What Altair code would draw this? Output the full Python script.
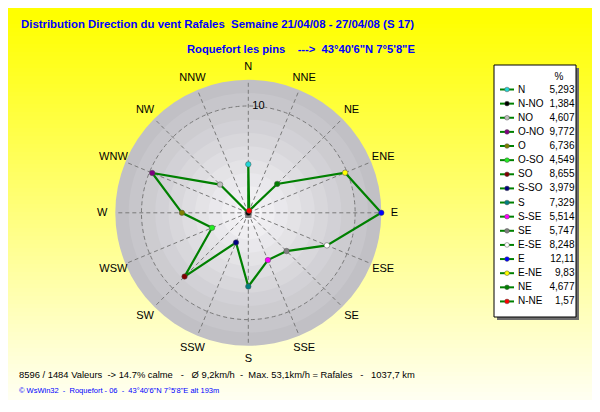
import altair as alt
import pandas as pd

# ---------------- data ----------------
compass = ["N", "NNE", "NE", "ENE", "E", "ESE", "SE", "SSE",
           "S", "SSW", "SW", "WSW", "W", "WNW", "NW", "NNW"]
legend_labels = ["N", "N-NO", "NO", "O-NO", "O", "O-SO", "SO", "S-SO",
                 "S", "S-SE", "SE", "E-SE", "E", "E-NE", "NE", "N-NE"]
legend_values = [5.293, 1.384, 4.607, 9.772, 6.736, 4.549, 8.655, 3.979,
                 7.329, 5.514, 5.747, 8.248, 12.11, 9.83, 4.677, 1.57]
legend_colors = ["#22d6d6", "#000000", "#bdbdbd", "#800080", "#808000", "#22ee22",
                 "#800000", "#000080", "#008080", "#ff00ff", "#808080", "#ffffff",
                 "#0000ff", "#ffff00", "#008000", "#ff0000"]
ring_values = [10]

title1 = "Distribution Direction du vent Rafales  Semaine 21/04/08 - 27/04/08 (S 17)"
title2 = "Roquefort les pins    --->  43°40'6\"N 7°5'8\"E"
footer1 = "8596 / 1484 Valeurs  -> 14.7% calme   -   Ø 9,2km/h  -  Max. 53,1km/h = Rafales   -   1037,7 km"
footer2 = "© WsWin32  -  Roquefort - 06  -  43°40'6\"N 7°5'8\"E alt 193m"

# ---------------- layout constants (reference pixel coords) ----------------
OFF = 8
W, H = 584, 392
CX, CY, R = 248.3, 212.8, 133.0
LABEL_R = 146.0
VMIN, VMAX = min(legend_values), max(legend_values)

XS = alt.Scale(domain=[OFF, OFF + W], nice=False, zero=False)
YS = alt.Scale(domain=[OFF, OFF + H], nice=False, zero=False, reverse=True)


def X(f):
    return alt.X(f, type="quantitative", scale=XS, axis=None)


def Y(f):
    return alt.Y(f, type="quantitative", scale=YS, axis=None)


def px(v):
    return alt.value(v - OFF)


def nb(s):
    return s.replace(" ", "\u00a0")


def hexcol(c):
    return "#%02x%02x%02x" % tuple(int(round(v)) for v in c)


one = pd.DataFrame({"a": [0]})

pts = pd.DataFrame({
    "label": legend_labels,
    "value": legend_values,
    "color": legend_colors,
    "k": list(range(len(legend_labels))),
})
pts["ang"] = (360 - 22.5 * pts["k"]) % 360
pts["ord"] = pts["ang"] / 22.5
pts["vtxt"] = [str(v).replace(".", ",") for v in legend_values]
poly = pts.sort_values("ord")
poly = pd.concat([poly, poly.iloc[[0]].assign(ord=16)], ignore_index=True)

dirs = pd.DataFrame({"dir": compass, "i": list(range(len(compass)))})
rings = pd.DataFrame({"value": ring_values})

RADIUS_EXPR = f"(datum.value - {VMIN}) / ({VMAX} - {VMIN}) * {R}"


def polar(ch):
    return ch.transform_calculate(r=RADIUS_EXPR).transform_calculate(
        px=f"{CX} + datum.r * sin(datum.ang * PI / 180)",
        py=f"{CY} - datum.r * cos(datum.ang * PI / 180)",
    )


# ---------------- background (vertical yellow -> white fade, banded) ----------------
bg_rows = []
nbg = 98
for b in range(nbg):
    y0 = OFF + H * b / nbg
    y1 = OFF + H * (b + 1) / nbg + 0.5
    t = (y0 + 2) / 412.0
    t = max(0.0, (t - 0.04) / 0.96)
    bg_rows.append({"x0": OFF, "x1": OFF + W, "y0": y0, "y1": y1,
                    "c": hexcol((255, 255, 250 * t))})
bgdf = pd.DataFrame(bg_rows)
bg = alt.Chart(bgdf).mark_rect(strokeWidth=0).encode(
    x=X("x0"), x2=alt.X2("x1"), y=Y("y0"), y2=alt.Y2("y1"),
    fill=alt.Fill("c:N", scale=None))

# banded shading of the disc (concentric filled circles)
n_b = 10
c_in = (0xf5, 0xf4, 0xf7)
c_out = (0xc1, 0xc0, 0xc5)
band_rows = []
for b in range(n_b):
    t = 1 - b / (n_b - 1)
    col = hexcol(tuple(c_in[j] + (c_out[j] - c_in[j]) * t for j in range(3)))
    rr = R * (n_b - b) / n_b
    band_rows.append({"s": (2 * rr) ** 2, "c": col, "o": b, "cx": CX, "cy": CY})
bands = pd.DataFrame(band_rows)
disc = alt.Chart(bands).mark_point(shape="circle", filled=True, opacity=1).encode(
    x=X("cx"), y=Y("cy"),
    size=alt.Size("s:Q", scale=None), fill=alt.Fill("c:N", scale=None),
    order=alt.Order("o:Q"))

spokes = alt.Chart(dirs).transform_calculate(
    ang="datum.i * 22.5",
    x0=f"{CX}", y0=f"{CY}",
    x1=f"{CX} + {R} * sin(datum.ang * PI / 180)",
    y1=f"{CY} - {R} * cos(datum.ang * PI / 180)",
).mark_rule(color="#7a7a7a", strokeDash=[4, 3], strokeWidth=1).encode(
    x=X("x0"), y=Y("y0"), x2=alt.X2("x1"), y2=alt.Y2("y1"))

ring = alt.Chart(rings).transform_calculate(
    r=RADIUS_EXPR, s="pow(2 * datum.r, 2)", cx=f"{CX}", cy=f"{CY}",
).mark_point(shape="circle", filled=False, color="#7a7a7a", strokeDash=[4, 3],
             strokeWidth=1, opacity=1).encode(
    x=X("cx"), y=Y("cy"), size=alt.Size("s:Q", scale=None))

ring_lbl = alt.Chart(rings).transform_calculate(
    r=RADIUS_EXPR, tx=f"{CX} + 4", ty=f"{CY} - datum.r",
).mark_text(align="left", baseline="middle", font="Liberation Sans", fontSize=11,
            color="#000000").encode(x=X("tx"), y=Y("ty"), text="value:Q")

line = polar(alt.Chart(poly)).mark_line(color="#008000", strokeWidth=2.2).encode(
    x=X("px"), y=Y("py"), order=alt.Order("ord:Q"))

center = alt.Chart(one).mark_point(shape="square", filled=True, size=40,
                                   color="#808080", opacity=1).encode(
    x=px(CX), y=px(CY + 2))

points = polar(alt.Chart(pts)).mark_point(shape="circle", filled=True, size=30, opacity=1,
                                          stroke="#505050", strokeWidth=0.5).encode(
    x=X("px"), y=Y("py"), fill=alt.Fill("color:N", scale=None))

dir_lbl = alt.Chart(dirs).transform_calculate(
    ang="datum.i * 22.5",
    tx=f"{CX} + {LABEL_R} * sin(datum.ang * PI / 180)",
    ty=f"{CY} - {LABEL_R} * cos(datum.ang * PI / 180)",
).mark_text(align="center", baseline="middle", font="Liberation Sans", fontSize=11,
            color="#000000").encode(x=X("tx"), y=Y("ty"), text="dir:N")

# ---------------- titles / footers ----------------
tfont = "Liberation Sans"
t1 = alt.Chart(one).mark_text(text=nb(title1), align="left", baseline="middle",
                              font=tfont, fontSize=11.4, fontWeight="bold",
                              color="#0000ff").encode(x=px(21), y=px(25))
t2 = alt.Chart(one).mark_text(text=nb(title2), align="left", baseline="middle",
                              font=tfont, fontSize=11.2, fontWeight="bold",
                              color="#0000ff").encode(x=px(187), y=px(50))
f1 = alt.Chart(one).mark_text(text=nb(footer1), align="left", baseline="middle",
                              font="Liberation Sans", fontSize=9.4,
                              color="#000000").encode(x=px(19), y=px(375))
f2 = alt.Chart(one).mark_text(text=nb(footer2), align="left", baseline="middle",
                              font="Liberation Sans", fontSize=7.5,
                              color="#0000ff").encode(x=px(19), y=px(391))

# ---------------- legend ----------------
LX0, LX1, LY0, LY1 = 494, 576, 65, 317
ROW0, ROWH = 89.5, 14.13

shadow = alt.Chart(one).mark_rect(fill="#6e6e6e").encode(
    x=px(LX0 + 3), x2=px(LX1 + 3), y=px(LY0 + 3), y2=px(LY1 + 3))
box = alt.Chart(one).mark_rect(fill="#ffffff", stroke="#000000", strokeWidth=1).encode(
    x=px(LX0), x2=px(LX1), y=px(LY0), y2=px(LY1))
pct = alt.Chart(one).mark_text(text="%", align="center", baseline="middle",
                               font="Liberation Sans", fontSize=10).encode(
    x=px(559), y=px(76.5))

leg = alt.Chart(pts).transform_calculate(
    ly=f"{ROW0} + datum.k * {ROWH}",
    sx0="500", sx1="514", sxm="507", tx="518", vx="574.5",
)
leg_line = leg.mark_rule(color="#008000", strokeWidth=2).encode(
    x=X("sx0"), x2=alt.X2("sx1"), y=Y("ly"))
leg_pt = leg.mark_point(shape="circle", filled=True, size=22, opacity=1,
                        stroke="#505050", strokeWidth=0.5).encode(
    x=X("sxm"), y=Y("ly"), fill=alt.Fill("color:N", scale=None))
leg_lbl = leg.mark_text(align="left", baseline="middle", font="Liberation Sans",
                        fontSize=10, color="#000000").encode(
    x=X("tx"), y=Y("ly"), text="label:N")
leg_val = leg.mark_text(align="right", baseline="middle", font="Liberation Sans",
                        fontSize=10, color="#000000").encode(
    x=X("vx"), y=Y("ly"), text="vtxt:N")

chart = alt.layer(
    bg, disc, spokes, ring, ring_lbl, line, center, points, dir_lbl,
    t1, t2, f1, f2, shadow, box, pct, leg_line, leg_pt, leg_lbl, leg_val,
).properties(
    width=W, height=H, padding=0, autosize=alt.AutoSizeParams(type="none"),
).configure_view(strokeWidth=0)

chart.save("out.html", embed_options={"renderer": "svg", "actions": False})
